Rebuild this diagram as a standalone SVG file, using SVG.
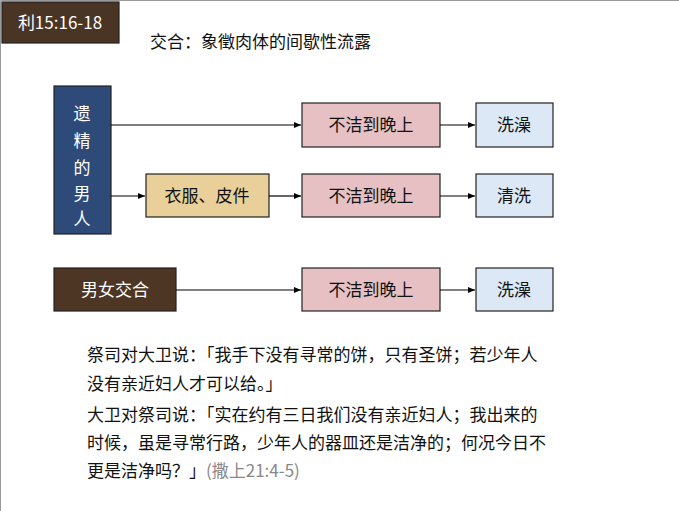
<svg xmlns="http://www.w3.org/2000/svg" width="679" height="511" viewBox="0 0 679 511">
<style>
text{font-family:"Noto Sans CJK SC","Liberation Sans",sans-serif;}
.b{stroke:#222;stroke-width:1.2}
.pk{fill:#e6c0c2}.bl{fill:#dce8f6}.tn{fill:#e9d09a}
.lb{font-size:17px;fill:#111;text-anchor:middle}
.wl{font-size:17px;fill:#fff;text-anchor:middle}
.c{stroke:#000;stroke-width:1.2;fill:none;marker-end:url(#a)}
.p{font-size:17px;fill:#111}
</style>
<defs><marker id="a" markerWidth="8" markerHeight="8" refX="7" refY="4" orient="auto" markerUnits="userSpaceOnUse"><path d="M0,1 L7,4 L0,7z" fill="#000"/></marker></defs>
<rect width="679" height="511" fill="#fff"/>
<path d="M0.5,511 V0.5 H679" stroke="#999" fill="none"/>
<g id="title"><rect x="2" y="2" width="117" height="41" fill="#4a3424" class="b"/><text x="60" y="29" class="wl" font-size="18">利15:16-18</text></g>
<text x="150" y="48" font-size="17" fill="#111">交合：象徵肉体的间歇性流露</text>
<g id="man"><rect x="54" y="86" width="57" height="148" fill="#2e4a78" class="b"/>
<text class="wl" font-size="18"><tspan x="82" y="120">遗</tspan><tspan x="82" y="147">精</tspan><tspan x="82" y="174">的</tspan><tspan x="82" y="200">男</tspan><tspan x="82" y="225">人</tspan></text></g>
<g id="r1p"><rect x="302" y="103" width="138" height="44" class="pk b"/><text x="371" y="131" class="lb">不洁到晚上</text></g>
<g id="r1b"><rect x="476" y="103" width="77" height="44" class="bl b"/><text x="514" y="131" class="lb">洗澡</text></g>
<g id="clothes"><rect x="146" y="174" width="123" height="43" class="tn b"/><text x="207" y="202" class="lb">衣服、皮件</text></g>
<g id="r2p"><rect x="302" y="174" width="138" height="43" class="pk b"/><text x="371" y="202" class="lb">不洁到晚上</text></g>
<g id="r2b"><rect x="476" y="174" width="77" height="43" class="bl b"/><text x="514" y="202" class="lb">清洗</text></g>
<g id="sex"><rect x="54" y="268" width="122" height="43" fill="#4e3624" class="b"/><text x="115" y="296" class="wl">男女交合</text></g>
<g id="r3p"><rect x="302" y="268" width="138" height="43" class="pk b"/><text x="371" y="296" class="lb">不洁到晚上</text></g>
<g id="r3b"><rect x="476" y="268" width="77" height="43" class="bl b"/><text x="514" y="296" class="lb">洗澡</text></g>
<g id="connectors">
<path class="c" d="M111,125 H301"/><path class="c" d="M440,125 H475"/>
<path class="c" d="M111,196 H145"/><path class="c" d="M269,196 H301"/><path class="c" d="M440,196 H475"/>
<path class="c" d="M176,290 H301"/><path class="c" d="M440,290 H475"/>
</g>
<g id="quote">
<text class="p" x="87" y="361">祭司对大卫说：「我手下没有寻常的饼，只有圣饼；若少年人</text>
<text class="p" x="87" y="390">没有亲近妇人才可以给。」</text>
<text class="p" x="87" y="421">大卫对祭司说：「实在约有三日我们没有亲近妇人；我出来的</text>
<text class="p" x="87" y="449">时候，虽是寻常行路，少年人的器皿还是洁净的；何况今日不</text>
<text class="p" x="87" y="477">更是洁净吗？」<tspan fill="#888">(撒上21:4-5)</tspan></text>
</g>
</svg>
